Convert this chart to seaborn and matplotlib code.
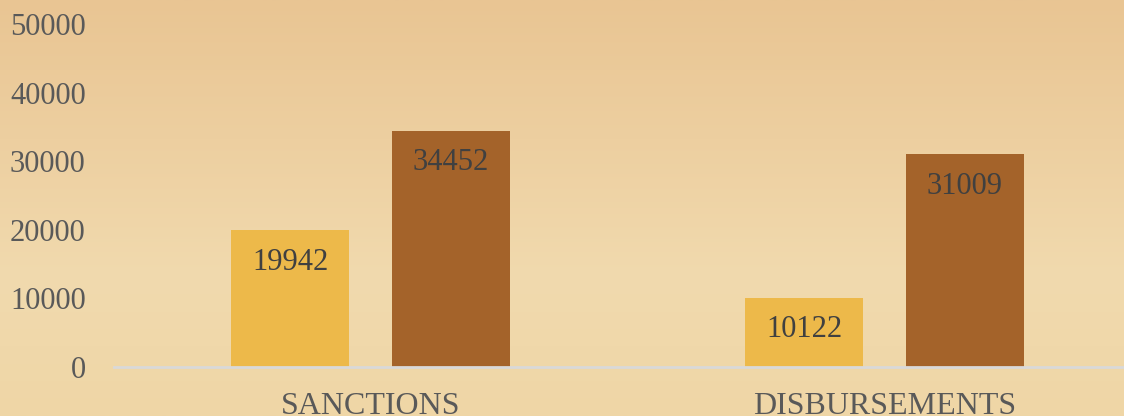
import numpy as np
import pandas as pd
import seaborn as sns
import matplotlib.pyplot as plt
from matplotlib.colors import LinearSegmentedColormap

# dados
categorias = ['SANCTIONS', 'DISBURSEMENTS']
series = ['Series 1', 'Series 2']
valores_serie1 = [19942, 10122]
valores_serie2 = [34452, 31009]
ticks_y = [0, 10000, 20000, 30000, 40000, 50000]

cores = ['#EDB94A', '#A4632A']
cor_texto = '#595959'

df = pd.DataFrame({
    'categoria': categorias * 2,
    'serie': [series[0]] * 2 + [series[1]] * 2,
    'valor': valores_serie1 + valores_serie2,
})

sns.set_theme(style='white')
plt.rcParams['font.family'] = ['Liberation Serif', 'DejaVu Serif']

fig = plt.figure(figsize=(11.24, 4.16), dpi=100)

# fundo em gradiente (imitando a textura de madeira)
fundo = fig.add_axes([0, 0, 1, 1], zorder=-10)
cmap_fundo = LinearSegmentedColormap.from_list(
    'madeira', ['#E9C593', '#EDCFA0', '#F1DAAE', '#EFD6A6'])
grad = np.linspace(0, 1, 256).reshape(-1, 1)
fundo.imshow(grad, aspect='auto', cmap=cmap_fundo, extent=[0, 1, 0, 1])
fundo.axis('off')

ax = fig.add_axes([0.101, 0.1178, 0.9146, 0.8245])
ax.patch.set_alpha(0)

sns.barplot(data=df, x='categoria', y='valor', hue='serie', palette=cores,
            width=0.626, gap=0.267, legend=False, ax=ax, saturation=1,
            linewidth=0)

ax.set_xlim(-0.5, 1.5)
ax.set_ylim(0, 50000)
ax.set_yticks(ticks_y)
ax.set_xlabel('')
ax.set_ylabel('')

for s in ['top', 'right', 'left']:
    ax.spines[s].set_visible(False)
ax.spines['bottom'].set_color('#D9D9D9')
ax.spines['bottom'].set_linewidth(2)
ax.tick_params(axis='both', length=0, labelsize=22, labelcolor=cor_texto)
ax.tick_params(axis='x', pad=18, labelsize=23)
ax.tick_params(axis='y', pad=20)

# rótulos dentro das barras
for barra in ax.patches:
    altura = barra.get_height()
    if altura == 0:
        continue
    ax.annotate(f'{altura:.0f}',
                (barra.get_x() + barra.get_width() / 2, altura),
                xytext=(0, -23), textcoords='offset points',
                ha='center', va='center', fontsize=22, color='#404040')

plt.savefig('out.png', dpi=100)
